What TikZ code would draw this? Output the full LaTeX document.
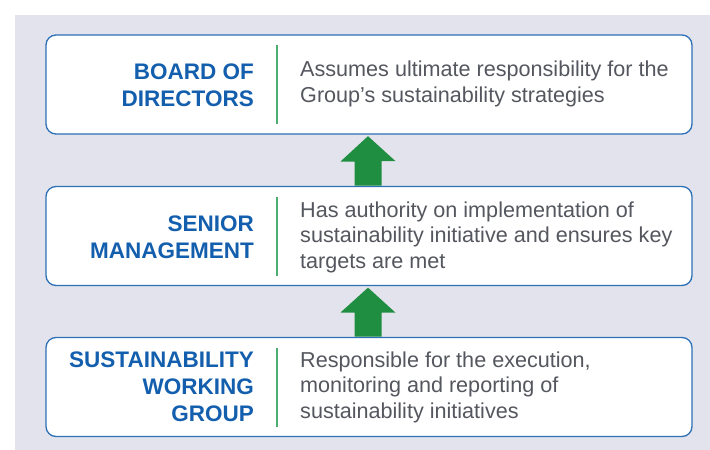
\documentclass[tikz,border=0pt]{standalone}
\usepackage{fontspec}
\setmainfont{Liberation Sans}
\definecolor{bluebd}{HTML}{2C70B6}
\definecolor{bluetx}{HTML}{135FAE}
\definecolor{graytx}{HTML}{55575F}
\definecolor{divgreen}{HTML}{4DAE74}
\definecolor{arrgreen}{HTML}{1F8E40}
\definecolor{lav}{HTML}{E3E3EE}
\tikzset{
  panel/.style={draw=bluebd, line width=1.3pt, fill=white, rounded corners=10pt,
    minimum width=646pt, minimum height=99pt, inner sep=0pt},
  lefttx/.style={anchor=east, align=right, text=bluetx, font=\fontsize{22.5}{27}\selectfont\bfseries, inner sep=0pt},
  righttx/.style={anchor=west, align=left, text=graytx, font=\fontsize{21.6}{25.5}\selectfont, inner sep=0pt},
  divider/.style={draw=divgreen, line width=1.2pt}
}
\begin{document}
\begin{tikzpicture}[x=1pt,y=-1pt]
\fill[white] (0,0) rectangle (710,450);
\fill[lav] (15,15) rectangle (710,450);
\useasboundingbox (0,0) rectangle (710,450);
% boxes
\node[panel] (b1) at (369,84.5) {};
\node[panel] (b2) at (369,236) {};
\node[panel] (b3) at (369,387) {};
% arrows
\fill[arrgreen] (b1.south -| 368,0) ++(0,1.5) -- ++(27.5,25) -- ++(-14,0) -- (381.5,185.5) -- (354.5,185.5) -- (354.5,161.5) -- (340.5,161.5) -- cycle;
\fill[arrgreen] (b2.south -| 368,0) ++(0,1.5) -- ++(27.5,25) -- ++(-14,0) -- (381.5,336.5) -- (354.5,336.5) -- (354.5,312.5) -- (340.5,312.5) -- cycle;
% dividers
\draw[divider] (277,45) -- (277,124);
\draw[divider] (277,197) -- (277,276);
\draw[divider] (277,348) -- (277,427);
% texts
\node[lefttx] (l1) at (254,85) {BOARD OF\\DIRECTORS};
\node[righttx] (r1) at (300,84) {Assumes ultimate responsibility for the\\Group’s sustainability strategies};
\node[lefttx] (l2) at (254,237) {SENIOR\\MANAGEMENT};
\node[righttx] (r2) at (300,237) {Has authority on implementation of\\sustainability initiative and ensures key\\targets are met};
\node[lefttx] (l3) at (254,387) {SUSTAINABILITY\\WORKING\\GROUP};
\node[righttx] (r3) at (300,387) {Responsible for the execution,\\monitoring and reporting of\\sustainability initiatives};
\end{tikzpicture}
\end{document}
